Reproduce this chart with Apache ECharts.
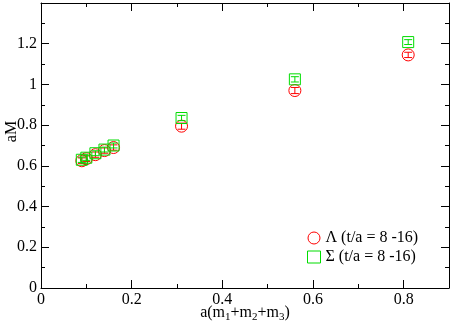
<!DOCTYPE html>
<html>
<head>
<meta charset="utf-8">
<script src="https://cdn.jsdelivr.net/npm/echarts@6/dist/echarts.min.js"></script>
<style>
  html, body { margin: 0; padding: 0; background: #fff; }
  #chart { width: 452px; height: 327px; }
</style>
</head>
<body>
<div id="chart"></div>
<script>
// quark mass sum a(m1+m2+m3)
var massSum = [0.09, 0.10, 0.12, 0.14, 0.16, 0.31, 0.56, 0.81];
// Lambda masses and errors
var lambdaM = [0.625, 0.635, 0.655, 0.675, 0.690, 0.795, 0.970, 1.145];
var lambdaErr = [0.014, 0.014, 0.013, 0.013, 0.013, 0.015, 0.015, 0.013];
// Sigma masses and errors
var sigmaM = [0.630, 0.640, 0.662, 0.680, 0.700, 0.835, 1.025, 1.208];
var sigmaErr = [0.013, 0.013, 0.012, 0.012, 0.012, 0.013, 0.013, 0.012];
var legendNames = ['Λ (t/a = 8 -16)', 'Σ (t/a = 8 -16)'];

var serif = 'Liberation Serif';

function buildData(ms, errs) {
    var out = [];
    for (var i = 0; i < massSum.length; i++) {
        out.push([massSum[i], ms[i], ms[i] - errs[i], ms[i] + errs[i]]);
    }
    return out;
}

// marker + error bar drawn together
function makeRender(color, shape) {
    return function (params, api) {
        var c = api.coord([api.value(0), api.value(1)]);
        var lo = api.coord([api.value(0), api.value(2)]);
        var hi = api.coord([api.value(0), api.value(3)]);
        var cap = 4;
        var st = { stroke: color, lineWidth: 1, fill: null };
        var marker;
        if (shape == 'circle') {
            marker = { type: 'circle', shape: { cx: c[0], cy: c[1], r: 6 }, style: st };
        } else {
            marker = { type: 'rect', shape: { x: c[0] - 5.5, y: c[1] - 5.5, width: 11, height: 11 }, style: st };
        }
        return {
            type: 'group',
            children: [
                marker,
                { type: 'line', shape: { x1: c[0], y1: lo[1], x2: c[0], y2: hi[1] }, style: st },
                { type: 'line', shape: { x1: c[0] - cap, y1: lo[1], x2: c[0] + cap, y2: lo[1] }, style: st },
                { type: 'line', shape: { x1: c[0] - cap, y1: hi[1], x2: c[0] + cap, y2: hi[1] }, style: st }
            ]
        };
    };
}

var axisLine = { show: true, onZero: false, lineStyle: { color: '#000', width: 1 } };
var labelStyle = { color: '#000', fontFamily: serif, fontSize: 16 };
var majorTick = { inside: true, length: 8, lineStyle: { color: '#000' } };
var minorTick = { show: true, splitNumber: 2, length: 4, lineStyle: { color: '#000' } };

var chart = echarts.init(document.getElementById('chart'));
chart.setOption({
    backgroundColor: '#fff',
    animation: false,
    grid: { left: 41, right: 3, top: 3, bottom: 39, containLabel: false, outerBoundsMode: 'none' },
    legend: {
        left: 302, top: 225, orient: 'vertical', itemGap: 3,
        itemWidth: 13, itemHeight: 12,
        textStyle: { fontFamily: serif, fontSize: 16, color: '#000' },
        data: [
            { name: legendNames[0], icon: 'circle', itemStyle: { color: 'transparent', borderColor: '#ff0000', borderWidth: 1 } },
            { name: legendNames[1], icon: 'rect', itemStyle: { color: 'transparent', borderColor: '#00dd00', borderWidth: 1 } }
        ]
    },
    xAxis: [{
        type: 'value', min: 0, max: 0.9, interval: 0.2,
        axisLine: axisLine, axisTick: majorTick, minorTick: minorTick,
        splitLine: { show: false },
        axisLabel: Object.assign({ margin: 4, formatter: function (v) { return v > 0.85 ? '' : String(v); } }, labelStyle),
        name: '{n|a(m}{s|1}{n|+m}{s|2}{n|+m}{s|3}{n|)}',
        nameLocation: 'middle', nameGap: 14, nameMoveOverlap: false,
        nameTextStyle: { rich: {
            n: { fontFamily: serif, fontSize: 16, color: '#000' },
            s: { fontFamily: serif, fontSize: 11, color: '#000', padding: [10, 0, 0, 0] }
        } }
    }, {
        type: 'value', min: 0, max: 0.9, interval: 0.2, position: 'top',
        axisLine: axisLine, axisTick: majorTick, minorTick: minorTick,
        splitLine: { show: false }, axisLabel: { show: false }
    }],
    yAxis: [{
        type: 'value', min: 0, max: 1.4, interval: 0.2,
        axisLine: axisLine, axisTick: majorTick, minorTick: minorTick,
        splitLine: { show: false },
        axisLabel: Object.assign({ margin: 4, formatter: function (v) { return v > 1.3 ? '' : String(v); } }, labelStyle),
        name: 'aM', nameLocation: 'middle', nameGap: 21, nameMoveOverlap: false,
        nameTextStyle: { fontFamily: serif, fontSize: 16, color: '#000', padding: [0, 0, 0, 28] }
    }, {
        type: 'value', min: 0, max: 1.4, interval: 0.2, position: 'right',
        axisLine: axisLine, axisTick: majorTick, minorTick: minorTick,
        splitLine: { show: false }, axisLabel: { show: false }
    }],
    series: [{
        name: legendNames[0], type: 'custom',
        renderItem: makeRender('#ff0000', 'circle'),
        data: buildData(lambdaM, lambdaErr),
        encode: { x: 0, y: 1 }, z: 3
    }, {
        name: legendNames[1], type: 'custom',
        renderItem: makeRender('#00dd00', 'rect'),
        data: buildData(sigmaM, sigmaErr),
        encode: { x: 0, y: 1 }, z: 4
    }]
});
</script>
</body>
</html>
